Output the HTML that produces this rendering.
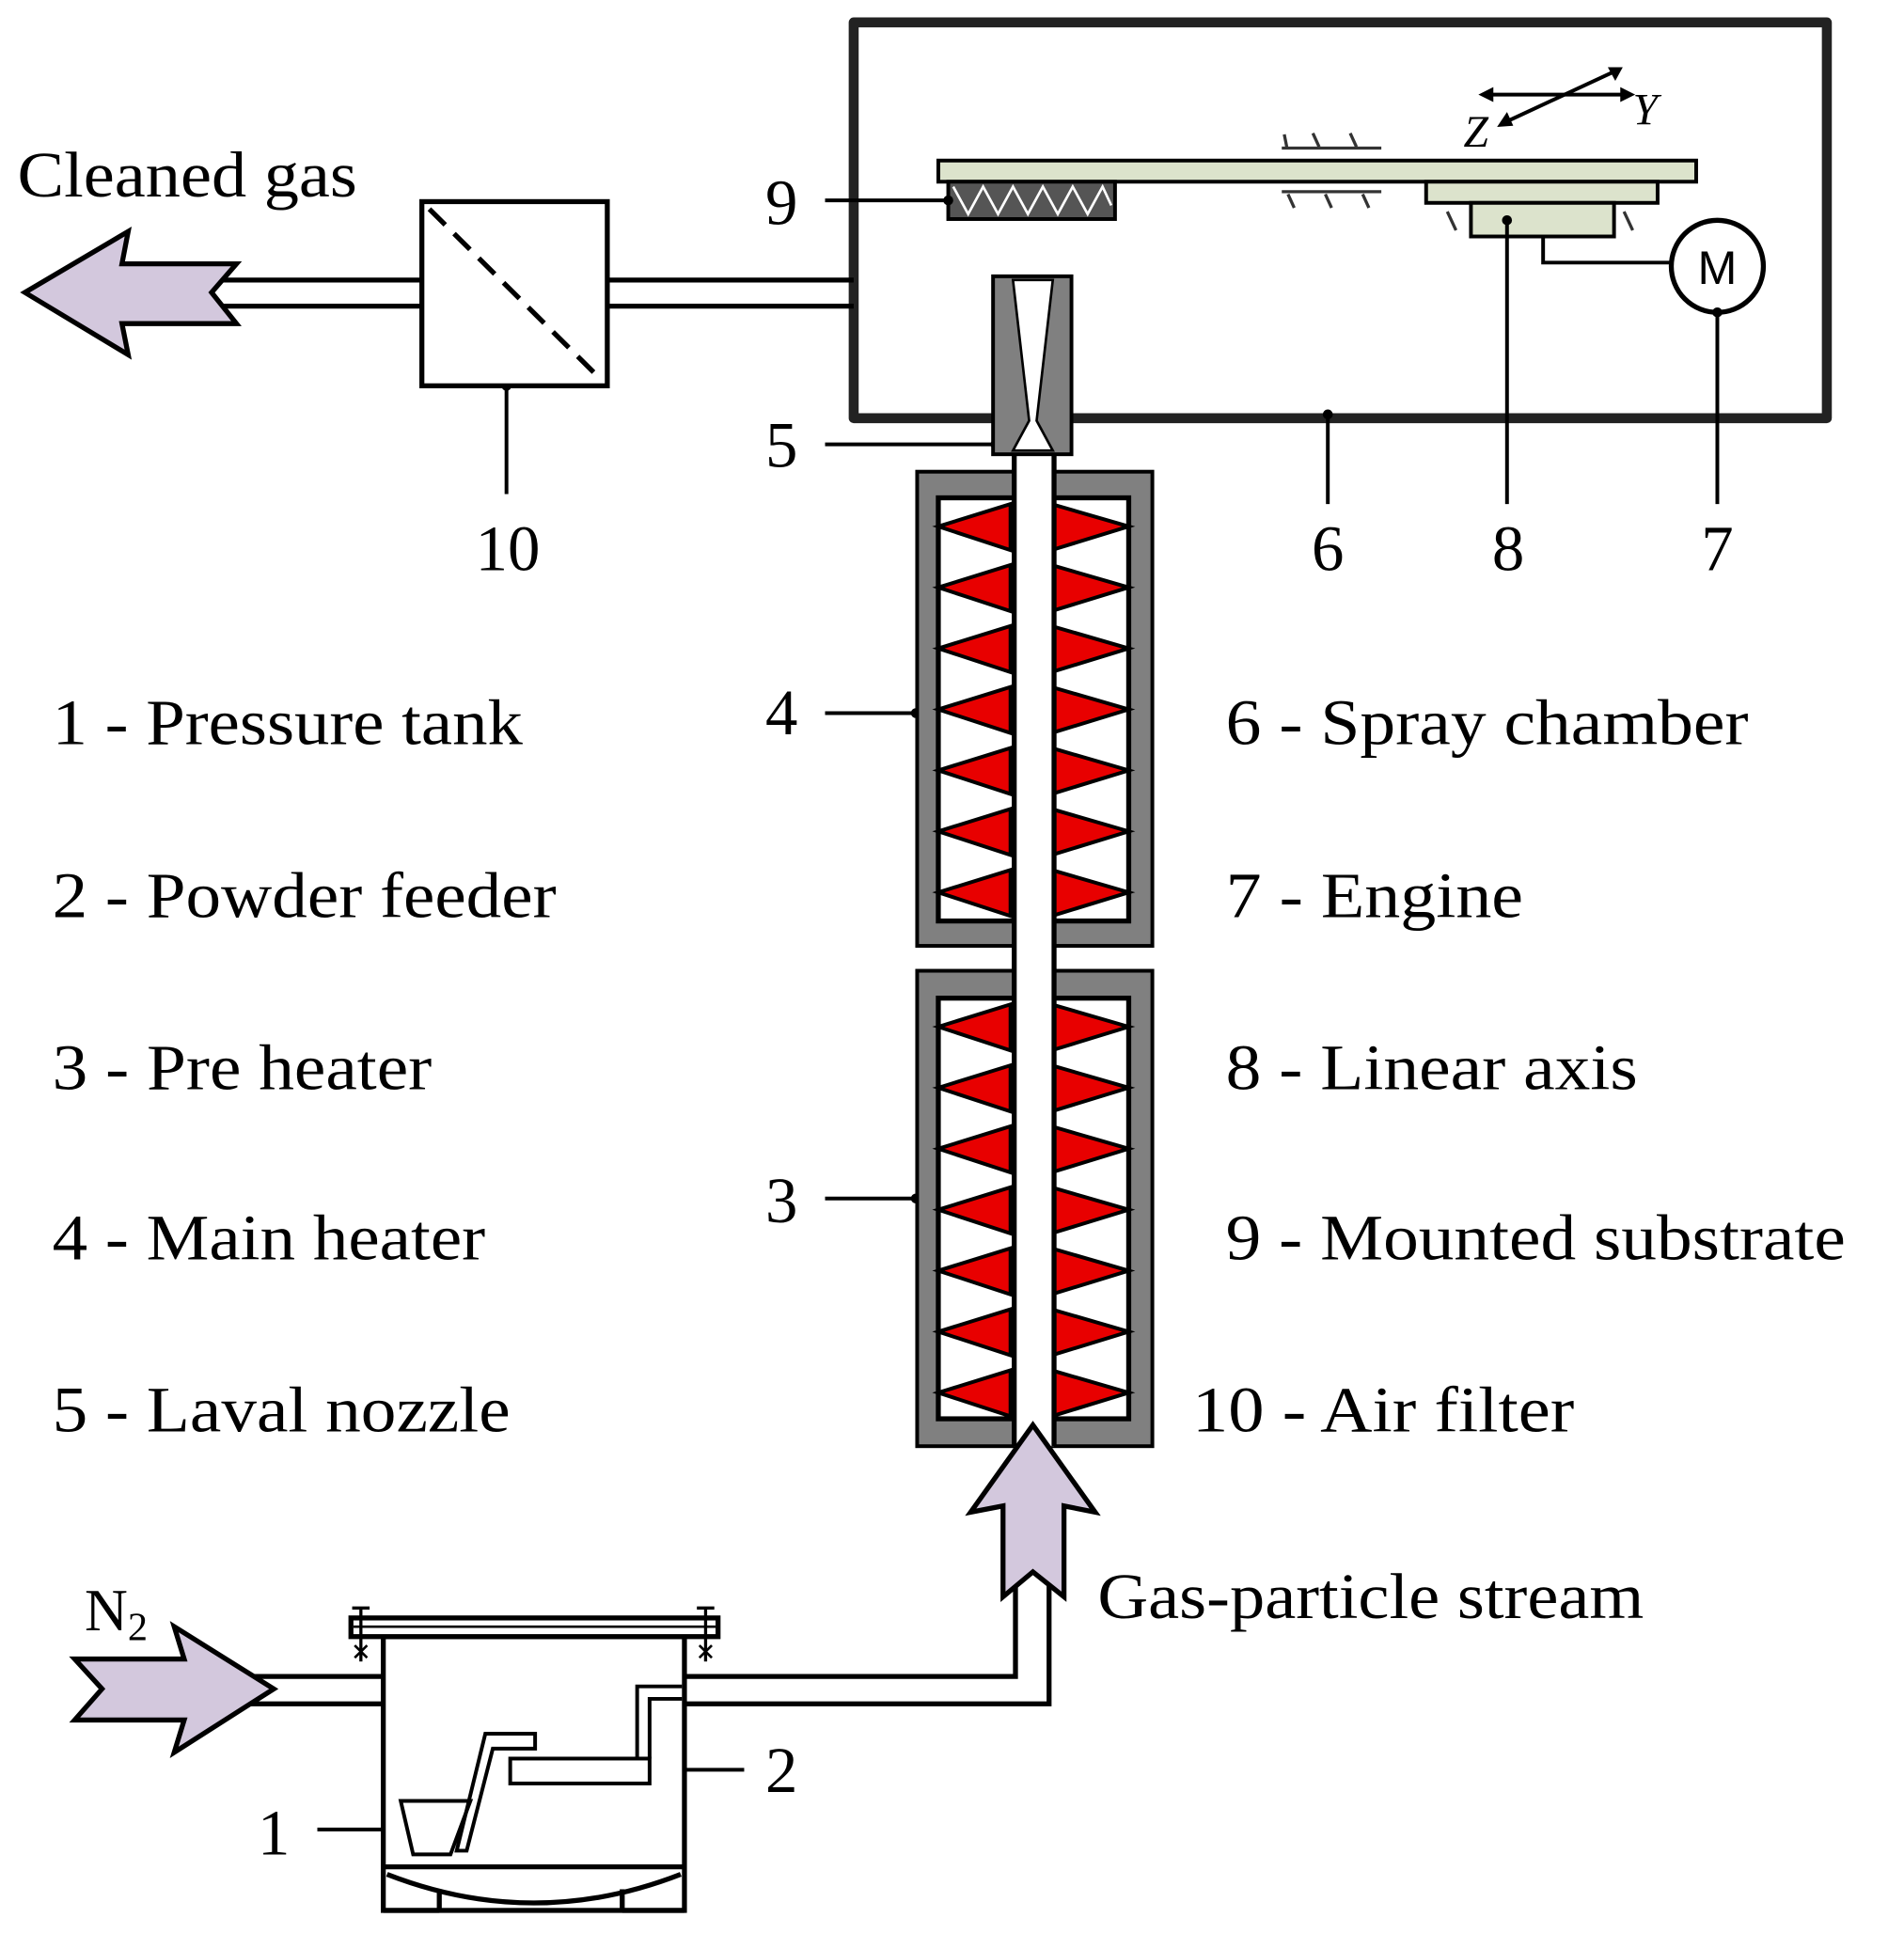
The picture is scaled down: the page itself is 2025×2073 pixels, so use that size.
<!DOCTYPE html>
<html><head><meta charset="utf-8"><style>html,body{margin:0;padding:0;background:#fff}svg{display:block}</style></head>
<body>
<svg width="2025" height="2073" viewBox="0 0 1530 1566" preserveAspectRatio="none" xmlns="http://www.w3.org/2000/svg" font-family="'Liberation Serif',serif">
<defs>
<g id="coil">
  <polygon points="754,0 812,-18 812,19" fill="#e80000" stroke="#000" stroke-width="3"/>
  <polygon points="907,0 845,-18 845,19" fill="#e80000" stroke="#000" stroke-width="3"/>
</g>
</defs>
<rect x="686" y="18" width="782" height="318" fill="none" stroke="#222" stroke-width="8" stroke-linejoin="round"/>
<rect x="754" y="129" width="609" height="17" fill="#dce3cc" stroke="#000" stroke-width="3"/>
<rect x="762" y="146" width="134" height="30" fill="#555" stroke="#000" stroke-width="3"/>
<polyline points="766,150 778,172 790,150 802,172 814,150 826,172 838,150 850,172 862,150 874,172 886,150 893,165" fill="none" stroke="#fff" stroke-width="2"/>
<rect x="1146" y="146" width="186" height="17" fill="#dce3cc" stroke="#000" stroke-width="3"/>
<rect x="1182" y="163" width="115" height="27" fill="#dce3cc" stroke="#000" stroke-width="3"/>
<g stroke="#333" stroke-width="2.5">
<line x1="1030" y1="119" x2="1110" y2="119"/><line x1="1032" y1="108" x2="1034" y2="118"/><line x1="1055" y1="107" x2="1060" y2="118"/><line x1="1085" y1="107" x2="1090" y2="118"/>
<line x1="1030" y1="154" x2="1110" y2="154"/><line x1="1035" y1="156" x2="1040" y2="167"/><line x1="1065" y1="156" x2="1070" y2="167"/><line x1="1095" y1="156" x2="1100" y2="167"/>
<line x1="1163" y1="170" x2="1170" y2="185"/><line x1="1305" y1="170" x2="1312" y2="185"/>
</g>
<g stroke="#000" stroke-width="3" fill="#000">
<line x1="1196" y1="76" x2="1306" y2="76"/>
<polygon points="1188,76 1200,70 1200,82" stroke="none"/>
<polygon points="1314,76 1302,70 1302,82" stroke="none"/>
<line x1="1210" y1="98" x2="1296" y2="58"/>
<polygon points="1203,102 1211,90 1216,101" stroke="none"/>
<polygon points="1304,54 1292,54 1298,65" stroke="none"/>
</g>
<text x="1176" y="118" font-size="36" font-style="italic">Z</text>
<text x="1312" y="100" font-size="36" font-style="italic">Y</text>
<polyline points="1240,190 1240,211 1343,211" fill="none" stroke="#000" stroke-width="3"/>
<circle cx="1380" cy="214" r="37" fill="#fff" stroke="#000" stroke-width="4"/>
<text x="1380" y="228" font-size="38" font-family="'Liberation Sans',sans-serif" text-anchor="middle">M</text>
<g stroke="#000" stroke-width="3">
<line x1="663" y1="161" x2="762" y2="161"/>
<line x1="663" y1="357" x2="800" y2="357"/>
<line x1="1067" y1="333" x2="1067" y2="405"/>
<line x1="1211" y1="177" x2="1211" y2="405"/>
<line x1="1380" y1="251" x2="1380" y2="405"/>
<line x1="407" y1="310" x2="407" y2="397"/>
<line x1="663" y1="573" x2="736" y2="573"/>
<line x1="663" y1="963" x2="736" y2="963"/>
<line x1="598" y1="1422" x2="522" y2="1422"/>
<line x1="255" y1="1470" x2="310" y2="1470"/>
</g>
<g fill="#000">
<circle cx="762" cy="161" r="4"/><circle cx="800" cy="357" r="4"/><circle cx="1067" cy="333" r="4"/>
<circle cx="1211" cy="177" r="4"/><circle cx="1380" cy="251" r="4"/><circle cx="407" cy="310" r="4"/>
<circle cx="736" cy="573" r="4"/><circle cx="736" cy="963" r="4"/><circle cx="522" cy="1422" r="4"/><circle cx="310" cy="1470" r="4"/>
</g>
<g stroke="#000" stroke-width="4">
<line x1="488" y1="225" x2="686" y2="225"/><line x1="488" y1="246" x2="686" y2="246"/>
<line x1="175" y1="225" x2="339" y2="225"/><line x1="175" y1="246" x2="339" y2="246"/>
</g>
<rect x="339" y="162" width="149" height="148" fill="#fff" stroke="#000" stroke-width="4"/>
<line x1="345" y1="168" x2="483" y2="305" stroke="#000" stroke-width="4" stroke-dasharray="18,10"/>
<polygon points="20,235 103,186 98,212 190,212 170,235 190,260 98,260 103,285" fill="#d3c8dd" stroke="#000" stroke-width="4"/>
<text x="14" y="158" font-size="52" textLength="273" lengthAdjust="spacingAndGlyphs">Cleaned gas</text>
<rect x="737" y="379" width="189" height="381" fill="#808080" stroke="#000" stroke-width="3"/>
<rect x="754" y="400" width="153" height="340" fill="#fff" stroke="#000" stroke-width="4"/>
<rect x="737" y="780" width="189" height="382" fill="#808080" stroke="#000" stroke-width="3"/>
<rect x="754" y="802" width="153" height="338" fill="#fff" stroke="#000" stroke-width="4"/>
<use href="#coil" y="423"/><use href="#coil" y="472"/><use href="#coil" y="521"/><use href="#coil" y="570"/><use href="#coil" y="619"/><use href="#coil" y="668"/><use href="#coil" y="717"/>
<use href="#coil" y="825"/><use href="#coil" y="874"/><use href="#coil" y="923"/><use href="#coil" y="972"/><use href="#coil" y="1021"/><use href="#coil" y="1070"/><use href="#coil" y="1119"/>
<rect x="815" y="362" width="32" height="800" fill="#fff"/>
<line x1="815" y1="362" x2="815" y2="1162" stroke="#000" stroke-width="4"/>
<line x1="847" y1="362" x2="847" y2="1162" stroke="#000" stroke-width="4"/>
<rect x="798" y="222" width="63" height="143" fill="#808080" stroke="#000" stroke-width="3"/>
<polygon points="814,225 846,225 833,338 846,362 814,362 827,338" fill="#fff" stroke="#000" stroke-width="2"/>
<g stroke="#000" stroke-width="4" fill="none">
<polyline points="816,1270 816,1347 550,1347"/>
<polyline points="843,1270 843,1369 550,1369"/>
<line x1="200" y1="1347" x2="308" y2="1347"/><line x1="200" y1="1369" x2="308" y2="1369"/>
</g>
<polygon points="830,1145 880,1215 855,1210 855,1283 830,1263 806,1283 806,1210 780,1215" fill="#d3c8dd" stroke="#000" stroke-width="4"/>
<text x="882" y="1300" font-size="52" textLength="439" lengthAdjust="spacingAndGlyphs">Gas-particle stream</text>
<polygon points="220,1357 140,1307 148,1333 60,1333 82,1357 60,1382 148,1382 140,1408" fill="#d3c8dd" stroke="#000" stroke-width="4"/>
<text x="68" y="1310" font-size="48">N<tspan font-size="32" dy="8">2</tspan></text>
<g stroke="#000" stroke-width="4" fill="none">
<rect x="308" y="1315" width="242" height="220" fill="#fff"/>
<rect x="282" y="1300" width="295" height="15" fill="#fff"/>
<line x1="284" y1="1307" x2="575" y2="1307" stroke-width="2"/>
<line x1="290" y1="1292" x2="290" y2="1335" stroke-width="2.5"/><line x1="283" y1="1292" x2="297" y2="1292" stroke-width="2.5"/>
<line x1="567" y1="1292" x2="567" y2="1335" stroke-width="2.5"/><line x1="560" y1="1292" x2="574" y2="1292" stroke-width="2.5"/>
<path d="M285,1322 L295,1332 M295,1322 L285,1332 M562,1322 L572,1332 M572,1322 L562,1332" stroke-width="2"/>
<line x1="308" y1="1500" x2="550" y2="1500"/>
<path d="M311,1506 Q429,1552 547,1506"/>
<line x1="308" y1="1535" x2="353" y2="1535"/><line x1="353" y1="1518" x2="353" y2="1535"/>
<line x1="500" y1="1518" x2="500" y2="1535"/><line x1="500" y1="1535" x2="550" y2="1535"/>
<polygon points="322,1447 378,1447 362,1490 332,1490" stroke-width="3"/>
<polygon points="390,1393 430,1393 430,1405 396,1405 375,1487 367,1487" stroke-width="3"/>
<rect x="410" y="1413" width="112" height="20" stroke-width="3"/>
<polyline points="512,1413 512,1355 548,1355" stroke-width="3"/>
<polyline points="522,1413 522,1365 548,1365" stroke-width="3"/>
</g>
<g font-size="52" text-anchor="middle">
<text x="628" y="180">9</text><text x="628" y="375">5</text>
<text x="1067" y="458">6</text><text x="1212" y="458">8</text><text x="1380" y="458">7</text>
<text x="408" y="458">10</text><text x="628" y="590">4</text><text x="628" y="982">3</text>
<text x="628" y="1440">2</text><text x="220" y="1490">1</text>
</g>
<g font-size="52" lengthAdjust="spacingAndGlyphs">
<text x="42" y="598" textLength="378" lengthAdjust="spacingAndGlyphs">1 - Pressure tank</text>
<text x="42" y="737" textLength="405" lengthAdjust="spacingAndGlyphs">2 - Powder feeder</text>
<text x="42" y="875" textLength="305" lengthAdjust="spacingAndGlyphs">3 - Pre heater</text>
<text x="42" y="1012" textLength="348" lengthAdjust="spacingAndGlyphs">4 - Main heater</text>
<text x="42" y="1150" textLength="368" lengthAdjust="spacingAndGlyphs">5 - Laval nozzle</text>
<text x="985" y="598" textLength="420" lengthAdjust="spacingAndGlyphs">6 - Spray chamber</text>
<text x="985" y="737" textLength="239" lengthAdjust="spacingAndGlyphs">7 - Engine</text>
<text x="985" y="875" textLength="331" lengthAdjust="spacingAndGlyphs">8 - Linear axis</text>
<text x="985" y="1012" textLength="498" lengthAdjust="spacingAndGlyphs">9 - Mounted substrate</text>
<text x="958" y="1150" textLength="307" lengthAdjust="spacingAndGlyphs">10 - Air filter</text>
</g>
</svg>
</body></html>
